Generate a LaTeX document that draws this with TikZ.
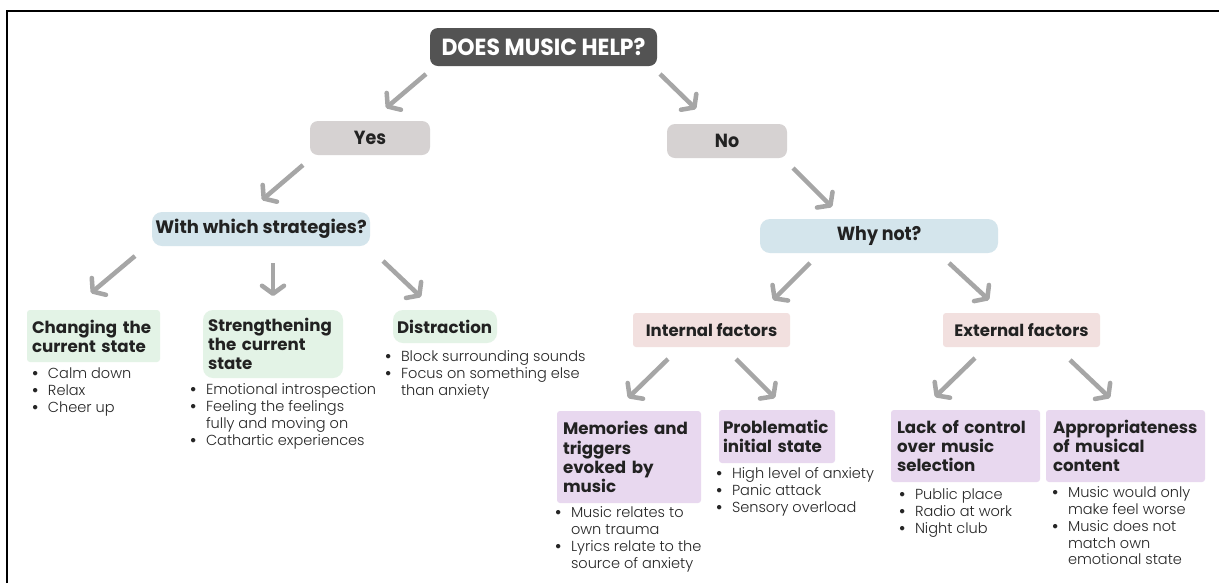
\documentclass[tikz,border=0pt]{standalone}
\usepackage{fontspec}
\setmainfont{Poppins}
\newfontfamily\condf{Poppins}[FakeStretch=0.94]
\newfontfamily\condg{Poppins}[FakeStretch=0.92]
\IfFontExistsTF{Poppins Light}{\newfontfamily\lightf{Poppins Light}}{\newfontfamily\lightf{Poppins}}
\newfontfamily\bulf{Poppins}
\usetikzlibrary{arrows.meta,calc}
\newlength\pxu \setlength\pxu{0.75pt}
\definecolor{titlec}{HTML}{535353}
\definecolor{greyc}{HTML}{D6D2D2}
\definecolor{bluec}{HTML}{D4E5EC}
\definecolor{greenc}{HTML}{E3F3E6}
\definecolor{pinkc}{HTML}{F2E0DF}
\definecolor{purplec}{HTML}{E8D8EF}
\definecolor{arrowc}{HTML}{A6A6A6}
\definecolor{textc}{HTML}{222222}
\definecolor{bodyc}{HTML}{262626}
\newcommand\bul{\makebox[17\pxu][l]{\hspace{0.5\pxu}{\bulf\bfseries •}}}
\newcommand\cnt{\hspace*{17\pxu}}
\newcommand\bodyfont{\lightf\fontsize{10.9pt}{12.6pt}\selectfont}
\newcommand\headfont{\fontsize{12.5pt}{14.4pt}\selectfont\bfseries}
\tikzset{
  every node/.style={inner sep=0pt, outer sep=0pt},
  cbox/.style={align=center, text=textc},
  hbox/.style={anchor=north west, align=left, inner xsep=3.75pt, text=textc, font=\headfont},
  blist/.style={anchor=north west, text=bodyc, font=\bodyfont},
  arr/.style={draw=arrowc, line width=3.4pt, -{Straight Barb[length=6pt,width=16.5pt,round]}}
}
\begin{document}
\begin{tikzpicture}[x=0.75pt,y=-0.75pt]
\useasboundingbox (0,0) rectangle (1219,583);
\fill[white] (0,0) rectangle (1219,583);
\draw[line width=1.9pt] (7,583) -- (7,11) -- (1219,11);

% top
\node[cbox, fill=titlec, rounded corners=6pt, minimum width=170.25pt, minimum height=28.5pt, text=white,
  font=\condf\bfseries\fontsize{17.5pt}{18pt}\selectfont] (title) at (543.5,47) {DOES MUSIC HELP?};
\node[cbox, fill=greyc, rounded corners=6pt, minimum width=90pt, minimum height=25.5pt,
  font=\condg\bfseries\fontsize{14.25pt}{15pt}\selectfont] (yes) at (370,138) {Yes};
\node[cbox, fill=greyc, rounded corners=6pt, minimum width=90pt, minimum height=25.5pt,
  font=\condg\bfseries\fontsize{14.25pt}{15pt}\selectfont] (no) at (727,141) {No};
\node[cbox, fill=bluec, rounded corners=7.5pt, minimum width=163.5pt, minimum height=25.5pt,
  font=\bfseries\fontsize{13.5pt}{14pt}\selectfont] (strat) at (261,229) {With which strategies?};
\node[cbox, fill=bluec, rounded corners=7.5pt, minimum width=178.5pt, minimum height=25.5pt,
  font=\condg\bfseries\fontsize{14.25pt}{15pt}\selectfont] (why) at (879,236) {Why not?};

% strategies
\node[hbox, fill=greenc, rounded corners=2.25pt, minimum width=99.75pt, minimum height=39pt, text width=92.25pt]
  (change) at (27,310) {\mbox{Changing the}\\\mbox{current state}};
\node[hbox, fill=greenc, rounded corners=7.5pt, minimum width=105pt, minimum height=51pt, text width=97.5pt]
  (strength) at (203,310) {\mbox{Strengthening}\\\mbox{the current}\\state};
\node[hbox, fill=greenc, rounded corners=7.5pt, minimum width=78pt, minimum height=24.75pt, text width=72pt, inner xsep=3pt]
  (distr) at (393,310) {Distraction};

\node[blist] (changeL) at (31,367) {\begin{tabular}{@{}l@{}}\bul Calm down\\ \bul Relax\\ \bul Cheer up\end{tabular}};
\node[blist] (strengthL) at (189,383) {\begin{tabular}{@{}l@{}}\bul Emotional introspection\\ \bul Feeling the feelings\\ \cnt fully and moving on\\ \bul Cathartic experiences\end{tabular}};
\node[blist] (distrL) at (384,350) {\begin{tabular}{@{}l@{}}\bul Block surrounding sounds\\ \bul Focus on something else\\ \cnt than anxiety\end{tabular}};

% factors
\node[cbox, fill=pinkc, rounded corners=2.25pt, minimum width=117.75pt, minimum height=25.5pt,
  font=\bfseries\fontsize{12.4pt}{13pt}\selectfont] (internal) at (711.5,330) {Internal factors};
\node[cbox, fill=pinkc, rounded corners=2.25pt, minimum width=117.75pt, minimum height=25.5pt,
  font=\bfseries\fontsize{12.4pt}{13pt}\selectfont] (external) at (1021.5,330) {External factors};

\node[hbox, fill=purplec, rounded corners=2.25pt, minimum width=108pt, minimum height=69pt, text width=99pt, inner xsep=4.5pt]
  (memories) at (557,411) {\mbox{Memories and}\\triggers\\\mbox{evoked by}\\music};
\node[hbox, fill=purplec, rounded corners=2.25pt, minimum width=87pt, minimum height=39.75pt, text width=81pt, inner xsep=3pt]
  (problem) at (719,410) {Problematic\\\mbox{initial state}};
\node[hbox, fill=purplec, rounded corners=2.25pt, minimum width=111.75pt, minimum height=54pt, text width=102.75pt, inner xsep=4.5pt]
  (lack) at (891,410) {\mbox{Lack of control}\\\mbox{over music}\\selection};
\node[hbox, fill=purplec, rounded corners=2.25pt, minimum width=119.25pt, minimum height=54pt, text width=108.75pt, inner xsep=5.25pt]
  (approp) at (1046,410) {Appropriateness\\\mbox{of musical}\\content};

\node[blist] (memoriesL) at (554,506) {\begin{tabular}{@{}l@{}}\bul Music relates to\\ \cnt own trauma\\ \bul Lyrics relate to the\\ \cnt source of anxiety\end{tabular}};
\node[blist] (problemL) at (715,467) {\begin{tabular}{@{}l@{}}\bul High level of anxiety\\ \bul Panic attack\\ \bul Sensory overload\end{tabular}};
\node[blist] (lackL) at (898,488) {\begin{tabular}{@{}l@{}}\bul Public place\\ \bul Radio at work\\ \bul Night club\end{tabular}};
\node[blist] (appropL) at (1051,486) {\begin{tabular}{@{}l@{}}\bul Music would only\\ \cnt make feel worse\\ \bul Music does not\\ \cnt match own\\ \cnt emotional state\end{tabular}};

% arrows
\draw[arr] ($(title.south west)+(-4,8)$) -- ($(yes.north)+(16,-13)$);
\draw[arr] ($(title.south east)+(3,8)$) -- ($(no.north west)+(29,-15)$);
\draw[arr] ($(yes.south west)+(-7,10)$) -- ($(strat.north)+(1,-12)$);
\draw[arr] ($(no.south east)+(6,10)$) -- ($(why.north)+(-47,-12)$);
\draw[arr] ($(strat.south west)+(-17,10)$) -- ($(change.north)+(-2.5,-17)$);
\draw[arr] ($(strat.south)+(12,17)$) -- ($(strength.north)+(0,-14)$);
\draw[arr] ($(strat.south east)+(13,15)$) -- ($(distr.north west)+(28,-13)$);
\draw[arr] ($(why.south)+(-69,10)$) -- ($(internal.north)+(61.5,-13)$);
\draw[arr] ($(why.south)+(70,10)$) -- ($(external.north west)+(46,-13)$);
\draw[arr] ($(internal.south)+(-43.5,12)$) -- ($(memories.north)+(-1,-13)$);
\draw[arr] ($(internal.south)+(24.5,12)$) -- ($(problem.north)+(-2,-12)$);
\draw[arr] ($(external.south)+(-46.5,11)$) -- ($(lack.north)+(-30.5,-13)$);
\draw[arr] ($(external.south)+(48.5,13)$) -- ($(approp.north)+(-15.5,-12)$);
\end{tikzpicture}
\end{document}
